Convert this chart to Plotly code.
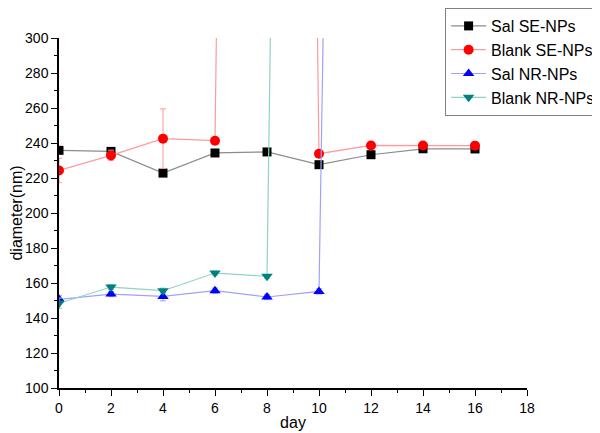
import plotly.graph_objects as go

# Data
days_sal_se = [0, 2, 4, 6, 8, 10, 12, 14, 16]
sal_se = [235.8, 235.2, 222.8, 234.3, 234.9, 227.6, 233.3, 236.7, 236.6]
sal_se_err = [1.5, 1.5, 1.5, 1.0, 1.0, 1.0, 1.0, 1.0, 1.0]

days_blank_se = [0, 2, 4, 6, 8, 10, 12, 14, 16]
blank_se = [224.3, 232.9, 242.5, 241.3, 2500, 233.9, 238.6, 238.6, 238.5]
blank_se_err = [7, 3, 17, 1.5, 0, 1.5, 1.0, 1.0, 1.0]

days_sal_nr = [0, 2, 4, 6, 8, 10, 12]
sal_nr = [150.7, 153.7, 152.3, 155.6, 152.0, 155.2, 2000]
sal_nr_err = [2, 1.5, 2.5, 1.5, 1.5, 1.5, 0]

days_blank_nr = [0, 2, 4, 6, 8, 10]
blank_nr = [148.4, 157.7, 155.6, 165.7, 163.8, 2300]
blank_nr_err = [3, 1.5, 1.5, 1.0, 1.0, 0]

x_ticks = [0, 2, 4, 6, 8, 10, 12, 14, 16, 18]
y_ticks = [100, 120, 140, 160, 180, 200, 220, 240, 260, 280, 300]

series = [
    ("Sal SE-NPs", days_sal_se, sal_se, sal_se_err, "#000000", "#8c8c8c", "square", 9),
    ("Blank SE-NPs", days_blank_se, blank_se, blank_se_err, "#ff0000", "#ff9a9a", "circle", 10),
    ("Sal NR-NPs", days_sal_nr, sal_nr, sal_nr_err, "#0000ff", "#a0a0ff", "triangle-up", 10),
    ("Blank NR-NPs", days_blank_nr, blank_nr, blank_nr_err, "#008080", "#8fd3c8", "triangle-down", 10),
]

fig = go.Figure()
for name, xs, ys, errs, mcol, lcol, sym, size in series:
    fig.add_trace(go.Scatter(
        x=xs, y=ys, name=name, mode="lines+markers",
        line=dict(color=lcol, width=1.2),
        marker=dict(color=mcol, symbol=sym, size=size),
        error_y=dict(type="data", array=errs, visible=True, color=lcol, thickness=1, width=3),
    ))

axis_font = dict(family="Arial, Liberation Sans, sans-serif", size=14, color="#000000")

fig.update_layout(
    width=592, height=425,
    margin=dict(l=51, r=73, t=30, b=45, autoexpand=False),
    paper_bgcolor="white", plot_bgcolor="white",
    font=dict(family="Arial, Liberation Sans, sans-serif", color="#000000"),
    showlegend=True,
    legend=dict(
        x=0.825, y=1.0857, xanchor="left", yanchor="top",
        bgcolor="white", bordercolor="#808080", borderwidth=1,
        font=dict(size=16, family="Arial, Liberation Sans, sans-serif"),
        itemwidth=35, tracegroupgap=0,
    ),
    xaxis=dict(
        range=[0, 18], tickvals=x_ticks, ticktext=[str(v) for v in x_ticks],
        showgrid=False, zeroline=False, showline=True, linecolor="#000000", linewidth=1.5,
        ticks="outside", ticklen=6, tickwidth=1.2, tickcolor="#000000",
        minor=dict(ticks="outside", ticklen=3, dtick=1, tickcolor="#000000", showgrid=False),
        tickfont=axis_font,
        title=dict(text="day", font=dict(size=16), standoff=2),
    ),
    yaxis=dict(
        range=[100, 300], tickvals=y_ticks, ticktext=[str(v) for v in y_ticks],
        showgrid=False, zeroline=False, showline=True, linecolor="#000000", linewidth=1.5,
        ticks="outside", ticklen=6, tickwidth=1.2, tickcolor="#000000",
        minor=dict(ticks="outside", ticklen=3, dtick=10, tickcolor="#000000", showgrid=False),
        tickfont=axis_font,
        title=dict(text="diameter(nm)", font=dict(size=16), standoff=4),
    ),
)

fig.write_html("out.html")
